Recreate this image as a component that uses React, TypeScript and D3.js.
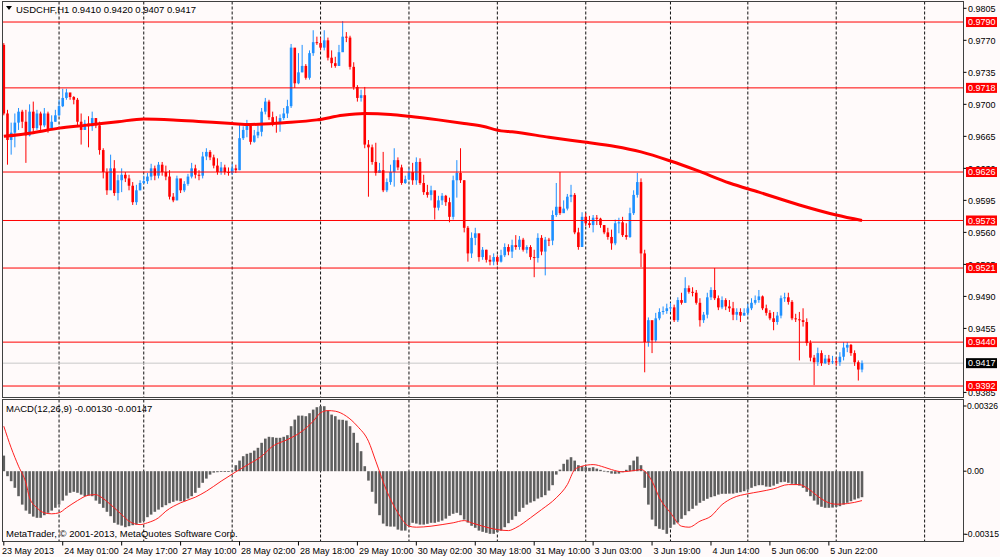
import React from "react";
import * as d3 from "d3";

const W = 1000;
const H = 557;

// ---------- DATA ----------
const titleText = "USDCHF,H1  0.9410 0.9420 0.9407 0.9417";
const macdTitle = "MACD(12,26,9) -0.00130 -0.00147";
const footer = "MetaTrader, \u00A9 2001-2013, MetaQuotes Software Corp.";

const firstOpen = 0.9765;
const closes = [
  0.9690, 0.9661, 0.9669, 0.9680, 0.9692, 0.9681, 0.9666, 0.9692, 0.9674, 0.9690,
  0.9677, 0.9690, 0.9672, 0.9681, 0.9688, 0.9698, 0.9707, 0.9713, 0.9708, 0.9705,
  0.9681, 0.9672, 0.9679, 0.9676, 0.9685, 0.9677, 0.9650, 0.9626, 0.9606, 0.9630,
  0.9603, 0.9617, 0.9623, 0.9619, 0.9611, 0.9593, 0.9606, 0.9614, 0.9616,
  0.9621, 0.9630, 0.9622, 0.9634, 0.9626, 0.9621, 0.9599, 0.9595, 0.9619, 0.9606,
  0.9613, 0.9621, 0.9630, 0.9623, 0.9622, 0.9643, 0.9648, 0.9642, 0.9633, 0.9626,
  0.9631, 0.9626, 0.9625, 0.9630, 0.9628, 0.9663, 0.9672, 0.9677, 0.9659, 0.9666,
  0.9670, 0.9692, 0.9703, 0.9686, 0.9680, 0.9679, 0.9685, 0.9690, 0.9698, 0.9762,
  0.9723, 0.9735, 0.9742, 0.9729, 0.9756, 0.9768, 0.9767, 0.9762, 0.9770, 0.9751,
  0.9745, 0.9742, 0.9757, 0.9774, 0.9773, 0.9741, 0.9719, 0.9707, 0.9710, 0.9656,
  0.9653, 0.9637, 0.9625, 0.9628, 0.9606, 0.9615, 0.9626, 0.9639, 0.9631, 0.9614,
  0.9618, 0.9626, 0.9617, 0.9637, 0.9614, 0.9604, 0.9601, 0.9606, 0.9587,
  0.9595, 0.9600, 0.9593, 0.9577, 0.9617, 0.9625, 0.9617, 0.9565, 0.9537, 0.9554,
  0.9559, 0.9533, 0.9541, 0.9530, 0.9528, 0.9533, 0.9528, 0.9535, 0.9544, 0.9539,
  0.9546, 0.9544, 0.9552, 0.9541, 0.9544, 0.9533, 0.9532, 0.9554, 0.9539, 0.9552,
  0.9551, 0.9579, 0.9588, 0.9581, 0.9586, 0.9599, 0.9601, 0.9560, 0.9544, 0.9577,
  0.9570, 0.9568, 0.9576, 0.9575, 0.9568, 0.9560, 0.9555, 0.9548, 0.9570, 0.9571,
  0.9557, 0.9555, 0.9581, 0.9601, 0.9615, 0.9537, 0.9440, 0.9464, 0.9442, 0.9466,
  0.9473, 0.9474, 0.9477, 0.9478, 0.9464, 0.9486, 0.9483, 0.9499, 0.9495,
  0.9494, 0.9483, 0.9464, 0.9470, 0.9489, 0.9497, 0.9488, 0.9478, 0.9486, 0.9479,
  0.9477, 0.9470, 0.9473, 0.9469, 0.9472, 0.9477, 0.9483, 0.9486, 0.9490, 0.9477,
  0.9472, 0.9466, 0.9462, 0.9469, 0.9488, 0.9489, 0.9484, 0.9466, 0.9465, 0.9464,
  0.9462, 0.9439, 0.9423, 0.9418, 0.9428, 0.9417, 0.9422, 0.9418, 0.9419, 0.9418,
  0.9424, 0.9434, 0.9437, 0.9428, 0.9418, 0.9410, 0.9417,
];
const highs = [
  0.9767, 0.9694, 0.9680, 0.9690, 0.9696, 0.9694, 0.9694, 0.9700, 0.9703, 0.9694,
  0.9692, 0.9696, 0.9692, 0.9688, 0.9694, 0.9705, 0.9717, 0.9717, 0.9712, 0.9709,
  0.9707, 0.9690, 0.9683, 0.9687, 0.9692, 0.9685, 0.9681, 0.9652, 0.9630, 0.9645,
  0.9639, 0.9623, 0.9630, 0.9626, 0.9623, 0.9615, 0.9612, 0.9617, 0.9622,
  0.9625, 0.9635, 0.9633, 0.9637, 0.9637, 0.9633, 0.9628, 0.9603, 0.9622, 0.9617,
  0.9616, 0.9624, 0.9636, 0.9634, 0.9628, 0.9648, 0.9652, 0.9650, 0.9645, 0.9641,
  0.9637, 0.9634, 0.9631, 0.9635, 0.9634, 0.9678, 0.9676, 0.9683, 0.9676, 0.9672,
  0.9677, 0.9696, 0.9707, 0.9705, 0.9692, 0.9687, 0.9689, 0.9696, 0.9705, 0.9766,
  0.9759, 0.9756, 0.9765, 0.9744, 0.9759, 0.9781, 0.9774, 0.9773, 0.9781, 0.9773,
  0.9759, 0.9752, 0.9765, 0.9791, 0.9779, 0.9775, 0.9746, 0.9721, 0.9716, 0.9719,
  0.9661, 0.9656, 0.9658, 0.9636, 0.9648, 0.9619, 0.9634, 0.9652, 0.9642, 0.9634,
  0.9622, 0.9630, 0.9636, 0.9642, 0.9641, 0.9623, 0.9612, 0.9611, 0.9604,
  0.9600, 0.9603, 0.9601, 0.9598, 0.9622, 0.9639, 0.9652, 0.9617, 0.9567, 0.9560,
  0.9565, 0.9554, 0.9544, 0.9541, 0.9535, 0.9537, 0.9535, 0.9541, 0.9548, 0.9547,
  0.9552, 0.9557, 0.9556, 0.9554, 0.9546, 0.9546, 0.9541, 0.9559, 0.9557, 0.9555,
  0.9554, 0.9584, 0.9614, 0.9626, 0.9595, 0.9602, 0.9612, 0.9603, 0.9565, 0.9582,
  0.9581, 0.9578, 0.9579, 0.9579, 0.9576, 0.9568, 0.9565, 0.9563, 0.9574, 0.9576,
  0.9577, 0.9570, 0.9587, 0.9606, 0.9625, 0.9619, 0.9541, 0.9467, 0.9461, 0.9472,
  0.9477, 0.9479, 0.9482, 0.9483, 0.9481, 0.9489, 0.9494, 0.9511, 0.9502,
  0.9500, 0.9497, 0.9488, 0.9473, 0.9494, 0.9500, 0.9521, 0.9491, 0.9490, 0.9488,
  0.9486, 0.9484, 0.9477, 0.9477, 0.9477, 0.9482, 0.9488, 0.9491, 0.9497, 0.9491,
  0.9481, 0.9475, 0.9473, 0.9473, 0.9491, 0.9494, 0.9494, 0.9486, 0.9471, 0.9473,
  0.9477, 0.9466, 0.9442, 0.9426, 0.9434, 0.9431, 0.9426, 0.9426, 0.9425, 0.9423,
  0.9429, 0.9440, 0.9440, 0.9438, 0.9431, 0.9420, 0.9420,
];
const lows = [
  0.9688, 0.9634, 0.9645, 0.9653, 0.9672, 0.9674, 0.9636, 0.9665, 0.9669, 0.9672,
  0.9672, 0.9675, 0.9669, 0.9675, 0.9681, 0.9687, 0.9697, 0.9705, 0.9705, 0.9700,
  0.9677, 0.9656, 0.9672, 0.9653, 0.9671, 0.9674, 0.9645, 0.9619, 0.9601, 0.9617,
  0.9600, 0.9595, 0.9604, 0.9615, 0.9606, 0.9590, 0.9590, 0.9606, 0.9613,
  0.9613, 0.9617, 0.9617, 0.9619, 0.9622, 0.9617, 0.9596, 0.9593, 0.9595, 0.9603,
  0.9604, 0.9611, 0.9619, 0.9619, 0.9617, 0.9619, 0.9639, 0.9639, 0.9630, 0.9623,
  0.9623, 0.9623, 0.9622, 0.9623, 0.9625, 0.9628, 0.9661, 0.9664, 0.9656, 0.9658,
  0.9663, 0.9665, 0.9689, 0.9683, 0.9676, 0.9669, 0.9670, 0.9683, 0.9685, 0.9696,
  0.9718, 0.9722, 0.9735, 0.9727, 0.9727, 0.9753, 0.9765, 0.9759, 0.9759, 0.9748,
  0.9740, 0.9740, 0.9742, 0.9759, 0.9768, 0.9738, 0.9716, 0.9703, 0.9703, 0.9652,
  0.9599, 0.9634, 0.9622, 0.9625, 0.9604, 0.9604, 0.9612, 0.9610, 0.9628, 0.9612,
  0.9613, 0.9617, 0.9612, 0.9612, 0.9612, 0.9601, 0.9598, 0.9595, 0.9574,
  0.9584, 0.9590, 0.9589, 0.9571, 0.9574, 0.9598, 0.9614, 0.9560, 0.9528, 0.9532,
  0.9546, 0.9528, 0.9530, 0.9527, 0.9524, 0.9524, 0.9524, 0.9527, 0.9533, 0.9535,
  0.9532, 0.9541, 0.9541, 0.9539, 0.9537, 0.9530, 0.9511, 0.9527, 0.9535, 0.9513,
  0.9545, 0.9546, 0.9577, 0.9579, 0.9582, 0.9584, 0.9593, 0.9558, 0.9541, 0.9545,
  0.9567, 0.9565, 0.9560, 0.9568, 0.9565, 0.9558, 0.9552, 0.9541, 0.9546, 0.9559,
  0.9555, 0.9552, 0.9554, 0.9579, 0.9598, 0.9522, 0.9407, 0.9435, 0.9428, 0.9440,
  0.9464, 0.9470, 0.9471, 0.9473, 0.9462, 0.9462, 0.9481, 0.9483, 0.9493,
  0.9490, 0.9481, 0.9457, 0.9461, 0.9466, 0.9486, 0.9486, 0.9475, 0.9476, 0.9475,
  0.9473, 0.9464, 0.9464, 0.9462, 0.9469, 0.9469, 0.9475, 0.9481, 0.9483, 0.9475,
  0.9469, 0.9464, 0.9453, 0.9459, 0.9466, 0.9484, 0.9481, 0.9464, 0.9462, 0.9420,
  0.9457, 0.9436, 0.9419, 0.9393, 0.9414, 0.9414, 0.9416, 0.9415, 0.9416, 0.9414,
  0.9414, 0.9420, 0.9429, 0.9425, 0.9414, 0.9398, 0.9407,
];

// moving average (read at bar indices)
const maIdx = [0, 8, 15, 22, 31, 38, 46, 54, 62, 67, 76, 85, 92, 98, 105, 110, 118, 125, 130, 135, 138, 148, 157, 166, 173, 181, 188, 197, 205, 216, 226, 233];
const maVal = [0.9665, 0.9669, 0.9674, 0.9677, 0.9681, 0.9684, 0.9683, 0.9681, 0.9679, 0.9678, 0.9680, 0.9683, 0.9688, 0.9690, 0.9689, 0.9687, 0.9683, 0.9679, 0.9676, 0.9671, 0.9670, 0.9664, 0.9659, 0.9654, 0.9648, 0.9638, 0.9628, 0.9614, 0.9604, 0.9590, 0.9579, 0.9573];

const macdHist = [
  0.00078, -0.00025, -0.00050, -0.00083, -0.00125, -0.00167, -0.00197, -0.00213, -0.00227, -0.00233,
  -0.00233, -0.00220, -0.00208, -0.00197, -0.00183, -0.00167, -0.00147, -0.00122, -0.00108, -0.00103,
  -0.00108, -0.00117, -0.00125, -0.00122, -0.00125, -0.00147, -0.00163, -0.00183, -0.00203, -0.00225,
  -0.00258, -0.00267, -0.00272, -0.00280, -0.00275, -0.00270, -0.00267, -0.00258, -0.00250,
  -0.00230, -0.00217, -0.00203, -0.00192, -0.00180, -0.00170, -0.00160, -0.00153, -0.00147, -0.00150,
  -0.00150, -0.00137, -0.00125, -0.00108, -0.00083, -0.00058, -0.00037, -0.00017, -0.00007, -0.00005,
  -0.00003, -0.00002, 0.00001, 0.00003, 0.00030, 0.00053, 0.00075, 0.00087, 0.00092, 0.00103,
  0.00117, 0.00142, 0.00163, 0.00172, 0.00170, 0.00167, 0.00167, 0.00172, 0.00180, 0.00225,
  0.00258, 0.00278, 0.00278, 0.00275, 0.00290, 0.00308, 0.00320, 0.00325, 0.00325, 0.00303,
  0.00283, 0.00275, 0.00258, 0.00257, 0.00253, 0.00225, 0.00192, 0.00142, 0.00100, 0.00025,
  -0.00047, -0.00103, -0.00162, -0.00220, -0.00262, -0.00275, -0.00277, -0.00277, -0.00292, -0.00297,
  -0.00297, -0.00272, -0.00258, -0.00262, -0.00267, -0.00267, -0.00263, -0.00258, -0.00258,
  -0.00253, -0.00247, -0.00237, -0.00223, -0.00213, -0.00208, -0.00220, -0.00242, -0.00257, -0.00273,
  -0.00283, -0.00297, -0.00303, -0.00308, -0.00313, -0.00313, -0.00305, -0.00297, -0.00280, -0.00260,
  -0.00243, -0.00225, -0.00203, -0.00183, -0.00167, -0.00157, -0.00150, -0.00137, -0.00130, -0.00120,
  -0.00097, -0.00070, -0.00017, 0.00008, 0.00037, 0.00058, 0.00070, 0.00053, 0.00030, 0.00025,
  0.00020, 0.00017, 0.00020, 0.00013, 0.00007, 0.00002, -0.00005, -0.00012, -0.00013, -0.00012,
  -0.00005, 0.00007, 0.00030, 0.00053, 0.00073, 0.00030, -0.00083, -0.00167, -0.00242, -0.00275,
  -0.00288, -0.00293, -0.00313, -0.00283, -0.00267, -0.00257, -0.00238, -0.00220, -0.00200,
  -0.00188, -0.00172, -0.00158, -0.00148, -0.00138, -0.00130, -0.00125, -0.00117, -0.00113, -0.00113,
  -0.00112, -0.00112, -0.00108, -0.00105, -0.00100, -0.00092, -0.00083, -0.00075, -0.00070, -0.00070,
  -0.00077, -0.00078, -0.00072, -0.00063, -0.00055, -0.00053, -0.00058, -0.00063, -0.00067, -0.00072,
  -0.00083, -0.00103, -0.00125, -0.00147, -0.00167, -0.00178, -0.00183, -0.00183, -0.00182, -0.00178,
  -0.00175, -0.00167, -0.00158, -0.00150, -0.00142, -0.00136, -0.00130,
];

const sigIdx = [0, 2, 4, 6, 7, 9, 11, 13, 15, 17, 20, 23, 25, 26, 29, 32, 34, 37, 39, 42, 44, 48, 52, 55, 59, 63, 66, 70, 73, 77, 81, 84, 86, 88, 90, 93, 96, 99, 101, 104, 107, 110, 112, 116, 119, 122, 125, 127, 130, 134, 137, 139, 143, 146, 150, 153, 155, 157, 160, 163, 165, 168, 171, 173, 176, 178, 181, 184, 186, 189, 192, 195, 198, 202, 205, 209, 213, 216, 218, 221, 223, 226, 229, 233];
const sigVal = [0.00225, 0.00117, 0.00025, -0.00058, -0.00133, -0.00183, -0.00208, -0.00213, -0.00208, -0.00183, -0.00147, -0.00120, -0.00117, -0.00125, -0.00167, -0.00217, -0.00250, -0.00267, -0.00258, -0.00233, -0.00200, -0.00158, -0.00130, -0.00100, -0.00050, -0.00003, 0.00030, 0.00075, 0.00125, 0.00158, 0.00200, 0.00250, 0.00292, 0.00303, 0.00300, 0.00275, 0.00225, 0.00150, 0.00050, -0.00100, -0.00208, -0.00275, -0.00280, -0.00275, -0.00267, -0.00258, -0.00247, -0.00258, -0.00275, -0.00292, -0.00297, -0.00283, -0.00233, -0.00192, -0.00133, -0.00067, 0.00008, 0.00025, 0.00033, 0.00020, 0.00008, -0.00003, 0.00003, 0.00008, -0.00050, -0.00133, -0.00208, -0.00275, -0.00280, -0.00250, -0.00225, -0.00167, -0.00133, -0.00113, -0.00103, -0.00088, -0.00067, -0.00067, -0.00083, -0.00125, -0.00150, -0.00165, -0.00162, -0.00147];

const hLevels = [0.9790, 0.9718, 0.9626, 0.9573, 0.9521, 0.9440, 0.9392];
const hLabels = ["0.9790", "0.9718", "0.9626", "0.9573", "0.9521", "0.9440", "0.9392"];
const currentPrice = 0.9417;
const currentLabel = "0.9417";
const priceTicks = [0.9805, 0.9770, 0.9735, 0.9700, 0.9665, 0.9630, 0.9595, 0.9560, 0.9525, 0.9490, 0.9455, 0.9385];
const macdTicks = [0.00326, 0, -0.00315];
const macdTickLabels = ["0.00326", "0.00", "-0.00315"];
const gridIdx = [15, 38, 62, 86, 110, 134, 158, 181, 202, 226, 250];
const dateIdx = [0, 16, 32, 48, 64, 80, 96, 112, 128, 144, 160, 176, 192, 208, 224];
const dateLabels = ["23 May 2013", "24 May 01:00", "24 May 17:00", "27 May 10:00", "28 May 02:00", "28 May 18:00", "29 May 10:00", "30 May 02:00", "30 May 18:00", "31 May 10:00", "3 Jun 03:00", "3 Jun 19:00", "4 Jun 14:00", "5 Jun 06:00", "5 Jun 22:00"];

// ---------- LAYOUT ----------
const L = 2.5, R = 963.5;
const mainTop = 1.5, mainBot = 397.5;
const mTop = 399.5, mBot = 541.5;
const FONT = "Tahoma, 'Liberation Sans', Arial, sans-serif";
const BULL = "#1E90FF";
const BEAR = "#FF0000";

export default function App() {
  const n = closes.length;
  const x = d3.scaleLinear().domain([0, n - 1]).range([3.8, 862]);
  const y = d3.scaleLinear().domain([0.938, 0.98119]).range([397, 2]);
  const ym = d3.scaleLinear().domain([-0.00349, 0.00361]).range([541, 399]);

  const maLine = d3.line<number>().x((_, i) => x(maIdx[i])).y((v) => y(v)).curve(d3.curveMonotoneX);
  const sigLine = d3.line<number>().x((_, i) => x(sigIdx[i])).y((v) => ym(v)).curve(d3.curveMonotoneX);

  const candles = closes.map((c, i) => {
    const o = i === 0 ? firstOpen : closes[i - 1];
    const bull = c >= o;
    const col = bull ? BULL : BEAR;
    const top = y(Math.max(o, c));
    const bh = Math.max(1, y(Math.min(o, c)) - top);
    const cx = x(i);
    return (
      <g key={i}>
        <line x1={cx} x2={cx} y1={y(highs[i])} y2={y(lows[i])} stroke={col} strokeWidth={1} />
        <rect x={cx - 1.3} y={top} width={2.6} height={bh} fill={col} />
      </g>
    );
  });

  const z = ym(0);
  const bars = macdHist.map((v, i) => {
    const yy = ym(v);
    return <rect key={i} x={x(i) - 1.3} width={2.6} y={Math.min(yy, z)} height={Math.max(0.8, Math.abs(yy - z))} fill="#5f5f5f" />;
  });

  return (
    <div>
      <style>{"body{margin:0;} svg{display:block;}"}</style>
      <svg width={W} height={H} viewBox={`0 0 ${W} ${H}`} style={{ fontFamily: FONT }}>
        <rect x={0} y={0} width={W} height={H} fill="#FFFAFA" />
        <defs>
          <clipPath id="mainClip"><rect x={L} y={mainTop} width={R - L} height={mainBot - mainTop} /></clipPath>
          <clipPath id="macdClip"><rect x={L} y={mTop} width={R - L} height={mBot - mTop} /></clipPath>
        </defs>

        {/* grid */}
        {gridIdx.map((g, i) => (
          <g key={i}>
            <line x1={x(g)} x2={x(g)} y1={mainTop} y2={mainBot} stroke="#111" strokeWidth={1} strokeDasharray="3,2" />
            <line x1={x(g)} x2={x(g)} y1={mTop} y2={mBot} stroke="#111" strokeWidth={1} strokeDasharray="3,2" />
          </g>
        ))}

        {/* current price line */}
        <line x1={L} x2={R} y1={y(currentPrice)} y2={y(currentPrice)} stroke="#C8C8C8" strokeWidth={1} />

        <g clipPath="url(#mainClip)">
          {candles}
          <path d={maLine(maVal) || ""} fill="none" stroke="#FF0000" strokeWidth={3} strokeLinejoin="round" />
          {hLevels.map((h, i) => (
            <line key={i} x1={L} x2={R} y1={y(h)} y2={y(h)} stroke="#FF0000" strokeWidth={1} />
          ))}
        </g>

        {/* MACD */}
        <g clipPath="url(#macdClip)">
          {bars}
          <path d={sigLine(sigVal) || ""} fill="none" stroke="#FF2020" strokeWidth={1} />
        </g>

        {/* frames */}
        <rect x={L} y={mainTop} width={R - L} height={mainBot - mainTop} fill="none" stroke="#404040" strokeWidth={1} />
        <rect x={L} y={mTop} width={R - L} height={mBot - mTop} fill="none" stroke="#404040" strokeWidth={1} />

        {/* titles */}
        <path d="M6,6 L12,6 L9,10 Z" fill="#000" />
        <text x={16} y={12.5} fontSize={9.5} fill="#000">{titleText}</text>
        <text x={6} y={412} fontSize={9.5} fill="#000">{macdTitle}</text>
        <text x={6} y={536.5} fontSize={9.5} fill="#000">{footer}</text>

        {/* price axis */}
        {priceTicks.map((t, i) => (
          <g key={i}>
            <line x1={R} x2={R + 3} y1={y(t)} y2={y(t)} stroke="#000" />
            <text x={968} y={y(t) + 3.2} fontSize={9} fill="#000">{t.toFixed(4)}</text>
          </g>
        ))}
        {hLevels.map((h, i) => (
          <g key={i}>
            <rect x={966} y={y(h) - 5} width={31} height={10} fill="#FF0000" />
            <text x={968} y={y(h) + 3.2} fontSize={9} fill="#FFFFFF">{hLabels[i]}</text>
          </g>
        ))}
        <rect x={966} y={y(currentPrice) - 5} width={31} height={10} fill="#000" />
        <text x={968} y={y(currentPrice) + 3.2} fontSize={9} fill="#FFFFFF">{currentLabel}</text>

        {/* macd axis */}
        {macdTicks.map((t, i) => (
          <g key={i}>
            <line x1={R} x2={R + 3} y1={ym(t)} y2={ym(t)} stroke="#000" />
            <text
              x={t < 0 ? 965 : 967}
              y={ym(t) + 3.2}
              fontSize={8.6}
              fill="#000"
            >
              {macdTickLabels[i]}
            </text>
          </g>
        ))}

        {/* time axis */}
        {dateIdx.map((d, i) => (
          <g key={i}>
            <line x1={x(d)} x2={x(d)} y1={mBot} y2={mBot + 4} stroke="#000" />
            <text x={i === 0 ? 2 : x(d) + 1.5} y={553.5} fontSize={9} fill="#000">{dateLabels[i]}</text>
          </g>
        ))}
      </svg>
    </div>
  );
}
